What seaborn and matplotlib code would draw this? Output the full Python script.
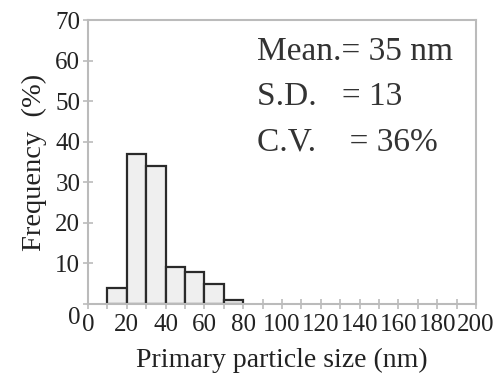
import numpy as np
import pandas as pd
import matplotlib
matplotlib.use("Agg")
import matplotlib.pyplot as plt
import matplotlib.transforms as mtransforms
import seaborn as sns

# histogram bins (nm) and frequency (%)
bin_left = [10, 20, 30, 40, 50, 60, 70]
freq = [4, 37, 34, 9, 8, 5, 1]
bin_edges = [10, 20, 30, 40, 50, 60, 70, 80]
xticks = [0, 20, 40, 60, 80, 100, 120, 140, 160, 180, 200]
yticks = [0, 10, 20, 30, 40, 50, 60, 70]
stats = ["Mean.= 35 nm", "S.D.   = 13", "C.V.    = 36%"]

sns.set_style("white")
plt.rcParams["font.family"] = ["Liberation Serif", "DejaVu Serif"]

df = pd.DataFrame({"size": [b + 5 for b in bin_left], "freq": freq})

fig = plt.figure(figsize=(4.96, 3.73), dpi=100)
ax = fig.add_axes([0.1774, 0.185, 0.7823, 0.761])

sns.histplot(data=df, x="size", weights="freq", bins=bin_edges,
             color="#efefef", edgecolor="#2a2a2a", linewidth=1.6, alpha=1, ax=ax)

ax.set_xlim(0, 200)
ax.set_ylim(0, 70)
ax.set_xticks(xticks)
ax.set_xticks(np.arange(10, 200, 20), minor=True)
ax.set_yticks(yticks)
ax.tick_params(axis="both", which="both", direction="inout", length=7, width=1.2,
               color="#bbbbbb", labelsize=18, labelcolor="#222222", pad=2,
               bottom=True, left=True)
ax.tick_params(axis="x", pad=4)

for s in ax.spines.values():
    s.set_visible(True)
    s.set_color("#bbbbbb")
    s.set_linewidth(1.5)

ax.set_xlabel("Primary particle size (nm)", fontsize=20, color="#222222", labelpad=8)
ax.set_ylabel("Frequency  (%)", fontsize=20.5, color="#222222", labelpad=6)

# y-axis "0" label sits a little lower
lab0 = ax.get_yticklabels()[0]
lab0.set_transform(lab0.get_transform() + mtransforms.ScaledTranslation(0, -8 / 72, fig.dpi_scale_trans))

for i, line in enumerate(stats):
    ax.text(0.435, 0.89 - i * 0.16, line, transform=ax.transAxes,
            fontsize=24, color="#333333", va="center", ha="left")

fig.savefig("out.png", dpi=100)
